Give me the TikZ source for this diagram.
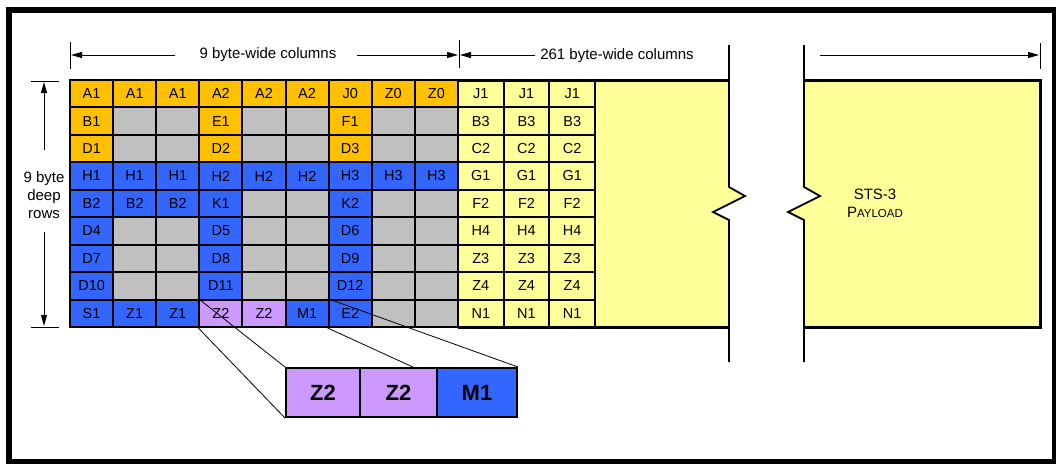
\documentclass[tikz,border=0pt]{standalone}
\usepackage{fontspec}
\setmainfont{Liberation Sans}
\usetikzlibrary{arrows.meta}

\begin{document}
\begin{tikzpicture}[x=1pt,y=-1pt,>={Triangle[length=11pt,width=6pt]},
  ohbox/.style={shape=rectangle,draw,line width=2pt,inner sep=0pt,minimum width=43.1pt,minimum height=27.44pt,font=\fontsize{14.5}{16}\selectfont},
  soh/.style={ohbox,fill=sts_gold},
  loh/.style={ohbox,fill=sts_blue},
  spare/.style={ohbox,fill=sts_grey},
  zbyte/.style={ohbox,fill=sts_lilac},
  poh/.style={ohbox,fill=sts_yellow,minimum width=45.67pt},
  bigbyte/.style={shape=rectangle,draw,line width=2pt,inner sep=0pt,minimum height=49pt,font=\fontsize{22}{24}\selectfont\bfseries},
  dimline/.style={line width=0.9pt},
  tickline/.style={line width=1pt},
  breakline/.style={line width=1.8pt},
  zoomline/.style={line width=0.8pt},
  lbl/.style={font=\fontsize{15}{18}\selectfont,align=center}]
\definecolor{sts_gold}{RGB}{255,192,0}
\definecolor{sts_blue}{RGB}{51,102,255}
\definecolor{sts_grey}{RGB}{192,192,192}
\definecolor{sts_lilac}{RGB}{204,153,255}
\definecolor{sts_yellow}{RGB}{255,255,153}
\useasboundingbox (0,0) rectangle (1056,463);
\draw[line width=5.5pt] (9,9.75) rectangle (1055,461.5);
% payload area with the break
\fill[sts_yellow] (595,80) -- (729,80) -- (729,187) -- (745,196) -- (713,212) -- (729,220) -- (729,327) -- (595,327) -- cycle;
\fill[sts_yellow] (804,80) -- (1040,80) -- (1040,327) -- (804,327) -- (804,220) -- (788,212) -- (820,196) -- (804,187) -- cycle;
\draw[breakline] (729,45) -- (729,187) -- (745,196) -- (713,212) -- (729,220) -- (729,362);
\draw[breakline] (804,45) -- (804,187) -- (820,196) -- (788,212) -- (804,220) -- (804,362);
\node[lbl] (stspl) at (875,203) {STS-3\\P{\fontsize{11.5}{12}\selectfont AYLOAD}};
% row 1
\node[soh] (r1c1) at (91.6,93.7) {A1};
\node[soh] (r1c2) at (134.7,93.7) {A1};
\node[soh] (r1c3) at (177.8,93.7) {A1};
\node[soh] (r1c4) at (220.9,93.7) {A2};
\node[soh] (r1c5) at (264.0,93.7) {A2};
\node[soh] (r1c6) at (307.1,93.7) {A2};
\node[soh] (r1c7) at (350.2,93.7) {J0};
\node[soh] (r1c8) at (393.3,93.7) {Z0};
\node[soh] (r1c9) at (436.4,93.7) {Z0};
% row 2
\node[soh] (r2c1) at (91.6,121.2) {B1};
\node[spare] (r2c2) at (134.7,121.2) {};
\node[spare] (r2c3) at (177.8,121.2) {};
\node[soh] (r2c4) at (220.9,121.2) {E1};
\node[spare] (r2c5) at (264.0,121.2) {};
\node[spare] (r2c6) at (307.1,121.2) {};
\node[soh] (r2c7) at (350.2,121.2) {F1};
\node[spare] (r2c8) at (393.3,121.2) {};
\node[spare] (r2c9) at (436.4,121.2) {};
% row 3
\node[soh] (r3c1) at (91.6,148.6) {D1};
\node[spare] (r3c2) at (134.7,148.6) {};
\node[spare] (r3c3) at (177.8,148.6) {};
\node[soh] (r3c4) at (220.9,148.6) {D2};
\node[spare] (r3c5) at (264.0,148.6) {};
\node[spare] (r3c6) at (307.1,148.6) {};
\node[soh] (r3c7) at (350.2,148.6) {D3};
\node[spare] (r3c8) at (393.3,148.6) {};
\node[spare] (r3c9) at (436.4,148.6) {};
% row 4
\node[loh] (r4c1) at (91.6,176.0) {H1};
\node[loh] (r4c2) at (134.7,176.0) {H1};
\node[loh] (r4c3) at (177.8,176.0) {H1};
\node[loh] (r4c4) at (220.9,176.0) {H2};
\node[loh] (r4c5) at (264.0,176.0) {H2};
\node[loh] (r4c6) at (307.1,176.0) {H2};
\node[loh] (r4c7) at (350.2,176.0) {H3};
\node[loh] (r4c8) at (393.3,176.0) {H3};
\node[loh] (r4c9) at (436.4,176.0) {H3};
% row 5
\node[loh] (r5c1) at (91.6,203.5) {B2};
\node[loh] (r5c2) at (134.7,203.5) {B2};
\node[loh] (r5c3) at (177.8,203.5) {B2};
\node[loh] (r5c4) at (220.9,203.5) {K1};
\node[spare] (r5c5) at (264.0,203.5) {};
\node[spare] (r5c6) at (307.1,203.5) {};
\node[loh] (r5c7) at (350.2,203.5) {K2};
\node[spare] (r5c8) at (393.3,203.5) {};
\node[spare] (r5c9) at (436.4,203.5) {};
% row 6
\node[loh] (r6c1) at (91.6,230.9) {D4};
\node[spare] (r6c2) at (134.7,230.9) {};
\node[spare] (r6c3) at (177.8,230.9) {};
\node[loh] (r6c4) at (220.9,230.9) {D5};
\node[spare] (r6c5) at (264.0,230.9) {};
\node[spare] (r6c6) at (307.1,230.9) {};
\node[loh] (r6c7) at (350.2,230.9) {D6};
\node[spare] (r6c8) at (393.3,230.9) {};
\node[spare] (r6c9) at (436.4,230.9) {};
% row 7
\node[loh] (r7c1) at (91.6,258.4) {D7};
\node[spare] (r7c2) at (134.7,258.4) {};
\node[spare] (r7c3) at (177.8,258.4) {};
\node[loh] (r7c4) at (220.9,258.4) {D8};
\node[spare] (r7c5) at (264.0,258.4) {};
\node[spare] (r7c6) at (307.1,258.4) {};
\node[loh] (r7c7) at (350.2,258.4) {D9};
\node[spare] (r7c8) at (393.3,258.4) {};
\node[spare] (r7c9) at (436.4,258.4) {};
% row 8
\node[loh] (r8c1) at (91.6,285.8) {D10};
\node[spare] (r8c2) at (134.7,285.8) {};
\node[spare] (r8c3) at (177.8,285.8) {};
\node[loh] (r8c4) at (220.9,285.8) {D11};
\node[spare] (r8c5) at (264.0,285.8) {};
\node[spare] (r8c6) at (307.1,285.8) {};
\node[loh] (r8c7) at (350.2,285.8) {D12};
\node[spare] (r8c8) at (393.3,285.8) {};
\node[spare] (r8c9) at (436.4,285.8) {};
% row 9
\node[loh] (r9c1) at (91.6,313.3) {S1};
\node[loh] (r9c2) at (134.7,313.3) {Z1};
\node[loh] (r9c3) at (177.8,313.3) {Z1};
\node[zbyte] (r9c4) at (220.9,313.3) {Z2};
\node[zbyte] (r9c5) at (264.0,313.3) {Z2};
\node[loh] (r9c6) at (307.1,313.3) {M1};
\node[loh] (r9c7) at (350.2,313.3) {E2};
\node[spare] (r9c8) at (393.3,313.3) {};
\node[spare] (r9c9) at (436.4,313.3) {};
% path overhead columns
\node[poh] (p1c1) at (480.8,93.7) {J1};
\node[poh] (p1c2) at (526.5,93.7) {J1};
\node[poh] (p1c3) at (572.2,93.7) {J1};
\node[poh] (p2c1) at (480.8,121.2) {B3};
\node[poh] (p2c2) at (526.5,121.2) {B3};
\node[poh] (p2c3) at (572.2,121.2) {B3};
\node[poh] (p3c1) at (480.8,148.6) {C2};
\node[poh] (p3c2) at (526.5,148.6) {C2};
\node[poh] (p3c3) at (572.2,148.6) {C2};
\node[poh] (p4c1) at (480.8,176.0) {G1};
\node[poh] (p4c2) at (526.5,176.0) {G1};
\node[poh] (p4c3) at (572.2,176.0) {G1};
\node[poh] (p5c1) at (480.8,203.5) {F2};
\node[poh] (p5c2) at (526.5,203.5) {F2};
\node[poh] (p5c3) at (572.2,203.5) {F2};
\node[poh] (p6c1) at (480.8,230.9) {H4};
\node[poh] (p6c2) at (526.5,230.9) {H4};
\node[poh] (p6c3) at (572.2,230.9) {H4};
\node[poh] (p7c1) at (480.8,258.4) {Z3};
\node[poh] (p7c2) at (526.5,258.4) {Z3};
\node[poh] (p7c3) at (572.2,258.4) {Z3};
\node[poh] (p8c1) at (480.8,285.8) {Z4};
\node[poh] (p8c2) at (526.5,285.8) {Z4};
\node[poh] (p8c3) at (572.2,285.8) {Z4};
\node[poh] (p9c1) at (480.8,313.3) {N1};
\node[poh] (p9c2) at (526.5,313.3) {N1};
\node[poh] (p9c3) at (572.2,313.3) {N1};
\draw[line width=3pt] (458,80) -- (729,80);
\draw[line width=3pt] (458,327) -- (729,327);
\draw[line width=3pt] (804,80) -- (1040,80) -- (1040,327) -- (804,327);
% enlarged bytes
\node[bigbyte,fill=sts_lilac,minimum width=74pt] (zz1) at (323,392.5) {Z2};
\node[bigbyte,fill=sts_lilac,minimum width=77pt] (zz2) at (398.5,392.5) {Z2};
\node[bigbyte,fill=sts_blue,minimum width=80pt] (zz3) at (477,392.5) {M1};
\coordinate (zoomhit) at (415,368);
\draw[zoomline] (r9c4.south west) -- (zz1.south west);
\draw[zoomline] (r9c4.north west) -- (zz1.north west);
\draw[zoomline] (r9c7.south west) -- (zoomhit);
\draw[zoomline] (r9c7.north west) -- (zz3.north east);
% dimensions
\node[lbl] (cols9) at (268,55) {9 byte-wide columns};
\node[lbl] (cols261) at (617,56) {261 byte-wide columns};
\node[lbl] (rows9) at (44,195) {9 byte\\deep\\rows};
\draw[tickline] (70,42) -- (70,69);
\draw[tickline] (459,40) -- (459,68);
\draw[tickline] (1040,43) -- (1040,69);
\draw[tickline] (31,81) -- (59,81);
\draw[tickline] (31,327) -- (59,327);
\draw[dimline,->] (175,55) -- (71,55);
\draw[dimline,->] (357,55) -- (458,55);
\draw[dimline,->] (535,55) -- (460,55);
\draw[dimline,->] (820,55) -- (1039,55);
\draw[dimline,->] (44,150) -- (44,82);
\draw[dimline,->] (44,232) -- (44,326);
\end{tikzpicture}
\end{document}
